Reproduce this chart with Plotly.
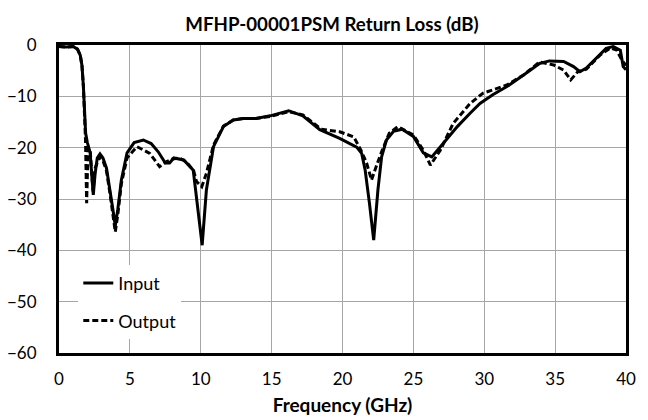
import plotly.graph_objects as go

# Input return loss (solid)
freq_in = [0, 0.5, 1.0, 1.3, 1.5, 1.62, 1.72, 1.8, 1.88, 2.0, 2.1, 2.2, 2.3, 2.42, 2.55, 2.7, 2.89,
           3.1, 3.35, 3.6, 3.8, 3.97, 4.15, 4.4, 4.8, 5.3, 5.95, 6.5, 7.0, 7.5, 7.8, 8.1, 8.8, 9.47,
           9.7, 10.1, 10.4, 10.9, 11.6, 12.3, 13.0, 13.9, 14.9, 16.2, 17.2, 18.4, 19.8, 21.0, 21.35,
           21.6, 21.9, 22.2, 22.5, 22.76, 23.1, 23.6, 24.2, 25.0, 25.7, 26.3, 27.1, 28.1, 29.0, 29.7,
           30.6, 31.6, 32.8, 33.9, 34.6, 35.6, 36.3, 36.75, 37.2, 37.9, 38.6, 39.1, 39.6, 39.8, 40]
rl_in = [-0.3, -0.4, -0.3, -0.8, -2.0, -4.0, -8.0, -13.0, -17.2, -19.0, -19.8, -21.0, -25.0, -29.2,
         -25.0, -22.0, -21.2, -22.0, -24.0, -28.0, -32.0, -35.2, -32.0, -26.3, -21.0, -19.0, -18.5,
         -19.2, -20.8, -23.0, -23.0, -22.0, -22.4, -24.4, -29.5, -39.0, -28.2, -19.8, -15.9, -14.6,
         -14.3, -14.3, -13.8, -12.8, -13.8, -16.5, -18.2, -19.9, -21.1, -24.4, -30.8, -38.0, -28.2,
         -21.8, -18.5, -16.8, -16.4, -17.8, -21.0, -21.8, -19.2, -15.9, -13.3, -11.4, -9.7, -8.1,
         -5.8, -3.6, -3.1, -3.2, -4.2, -5.2, -4.5, -2.6, -0.65, -0.3, -1.0, -4.2, -4.8]

# Output return loss (dashed)
freq_out = [0, 0.5, 1.0, 1.3, 1.5, 1.62, 1.72, 1.8, 1.87, 1.95, 2.05, 2.2, 2.3, 2.4, 2.55, 2.85,
            3.1, 3.35, 3.6, 3.8, 3.97, 4.15, 4.4, 4.8, 5.5, 6.4, 7.1, 7.6, 8.0, 8.5, 9.0, 9.5, 9.7,
            10.07, 10.4, 10.9, 11.6, 12.3, 13.0, 13.9, 14.9, 16.2, 17.2, 18.5, 19.8, 20.8, 21.3,
            21.7, 22.05, 22.4, 22.8, 23.3, 23.9, 25.0, 25.7, 26.2, 26.9, 27.8, 29.0, 29.9, 31.6,
            32.8, 33.9, 34.9, 35.6, 36.1, 36.6, 37.2, 38.2, 38.9, 39.35, 39.7, 40]
rl_out = [-0.3, -0.4, -0.3, -0.8, -2.0, -4.0, -8.0, -12.5, -18.5, -30.8, -20.0, -20.5, -24.0,
          -28.5, -24.0, -21.8, -22.5, -24.5, -29.0, -33.0, -36.4, -33.0, -27.0, -22.0, -19.8,
          -21.1, -23.7, -22.7, -22.2, -22.0, -22.8, -24.5, -26.6, -27.6, -25.0, -19.5, -15.8,
          -14.6, -14.3, -14.3, -13.9, -13.0, -13.6, -16.4, -16.9, -17.9, -20.5, -23.0, -26.3,
          -23.5, -20.5, -17.2, -15.9, -17.5, -20.5, -23.4, -20.5, -15.3, -11.4, -9.4, -7.8,
          -5.8, -3.3, -3.9, -4.9, -6.8, -5.2, -4.7, -1.9, -0.6, -1.0, -2.9, -4.0]

x_ticks = [0, 5, 10, 15, 20, 25, 30, 35, 40]
y_ticks = [-60, -50, -40, -30, -20, -10, 0]

FONT = "Lato"

fig = go.Figure()
fig.add_trace(go.Scatter(x=freq_in, y=rl_in, mode="lines", name="Input", legendgroup="a",
                         line=dict(color="black", width=3)))
fig.add_trace(go.Scatter(x=freq_out, y=rl_out, mode="lines", name="Output", legendgroup="b",
                         line=dict(color="black", width=3, dash="6px,3px")))

fig.update_layout(
    width=648, height=420,
    margin=dict(l=59, r=22, t=45, b=67),
    paper_bgcolor="white", plot_bgcolor="white",
    font=dict(family=FONT, size=17, color="black"),
    title=dict(text="<b>MFHP-00001PSM Return Loss (dB)</b>", x=332 / 648, xanchor="center",
               y=1 - 24 / 420, yanchor="middle", font=dict(family=FONT, size=18.7, color="black")),
    legend=dict(x=0.034, y=0.286, xanchor="left", yanchor="top", bgcolor="white",
                font=dict(family=FONT, size=18), tracegroupgap=11),
    showlegend=True,
)
fig.update_xaxes(range=[0, 40], tickvals=x_ticks, showgrid=True, gridcolor="#a6a6a6", gridwidth=1,
                 showline=True, linecolor="black", linewidth=3, mirror=True, ticks="",
                 zeroline=False, ticklabelstandoff=9, automargin=False,
                 title=dict(text="<b>Frequency (GHz)</b>", font=dict(family=FONT, size=19), standoff=11))
fig.update_yaxes(range=[-60, 0], tickvals=y_ticks, showgrid=True, gridcolor="#a6a6a6", gridwidth=1,
                 showline=True, linecolor="black", linewidth=3, mirror=True, ticks="",
                 zeroline=False, ticklabelstandoff=16, automargin=False)

fig.write_html("out.html", config={"displayModeBar": False},
               post_script="document.body.style.margin='0';")
